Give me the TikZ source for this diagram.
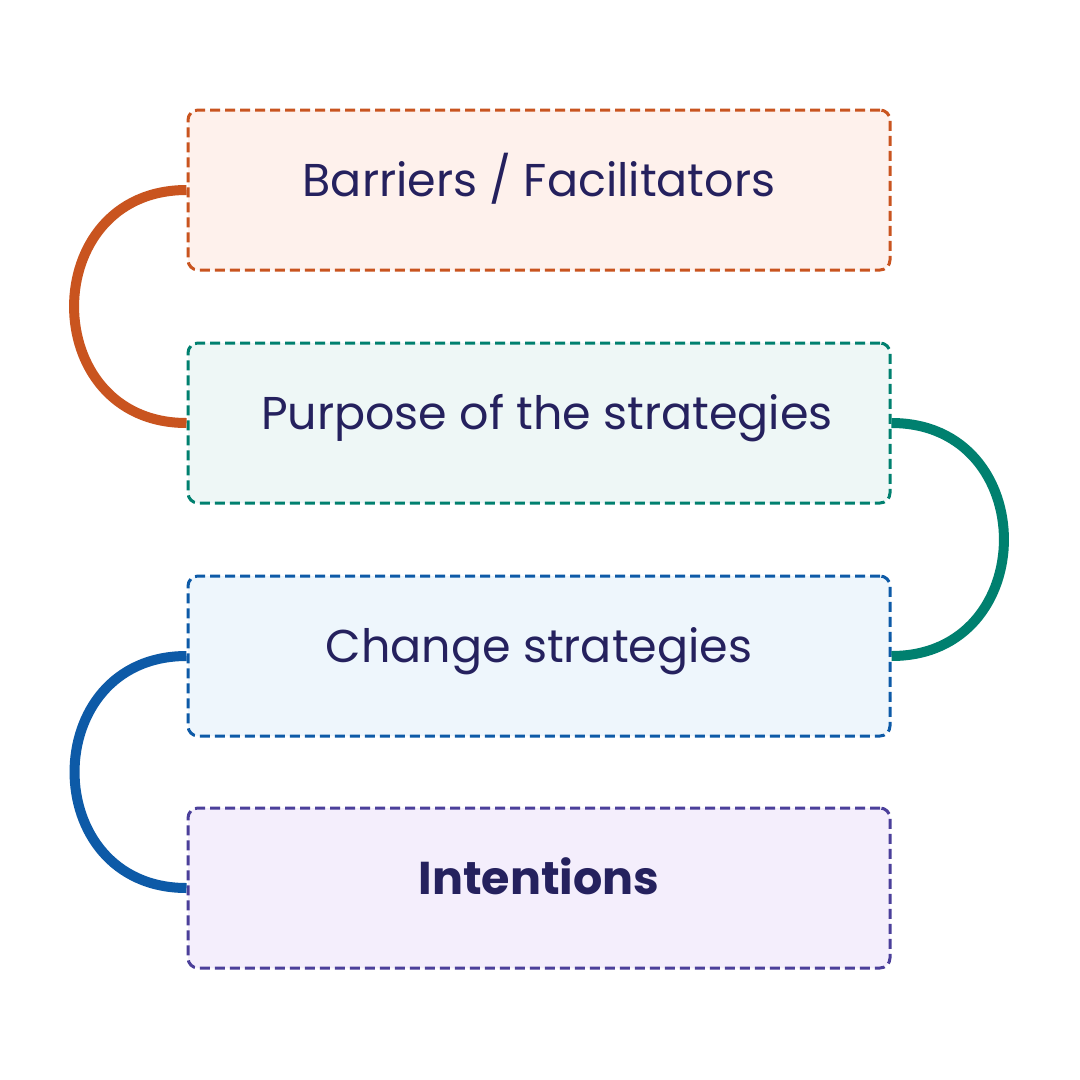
\documentclass[tikz,border=0pt]{standalone}
\usepackage{fontspec}
\setmainfont{Poppins}
\definecolor{txt}{HTML}{25215E}
\definecolor{cO}{HTML}{C9541F}\definecolor{fO}{HTML}{FEF1EC}
\definecolor{cT}{HTML}{00806F}\definecolor{fT}{HTML}{EEF7F6}
\definecolor{cB}{HTML}{0D5AA7}\definecolor{fB}{HTML}{EEF6FC}
\definecolor{cP}{HTML}{4B3F9A}\definecolor{fP}{HTML}{F4EEFC}
\newcommand{\lowtxt}[1]{\raisebox{-6pt}[0pt][0pt]{#1}}
\begin{document}
\begin{tikzpicture}[x=1pt,y=-1pt,
  box/.style={draw,line width=3pt,dash pattern=on 10pt off 5pt,rounded corners=10pt,minimum width=702pt,minimum height=160pt,text=txt,font=\fontsize{46}{52}\selectfont},
  link/.style={line width=10pt,looseness=1.65}]
\useasboundingbox[fill=white] (0,0) rectangle (1080,1080);
\node[box,draw=cO,fill=fO] (b1) at (539,190) {\lowtxt{Barriers / Facilitators}};
\node[box,draw=cT,fill=fT] (b2) at (539,423) {\lowtxt{\hspace{16pt}Purpose of the strategies}};
\node[box,draw=cB,fill=fB] (b3) at (539,656) {\lowtxt{Change strategies}};
\node[box,draw=cP,fill=fP,font=\fontsize{46}{52}\selectfont\bfseries] (b4) at (539,888) {\lowtxt{Intentions}};
\draw[link,cO] (b1.west) to[out=180,in=180] (b2.west);
\draw[link,cT] (b2.east) to[out=0,in=0] (b3.east);
\draw[link,cB] (b3.west) to[out=180,in=180] (b4.west);
\end{tikzpicture}
\end{document}
